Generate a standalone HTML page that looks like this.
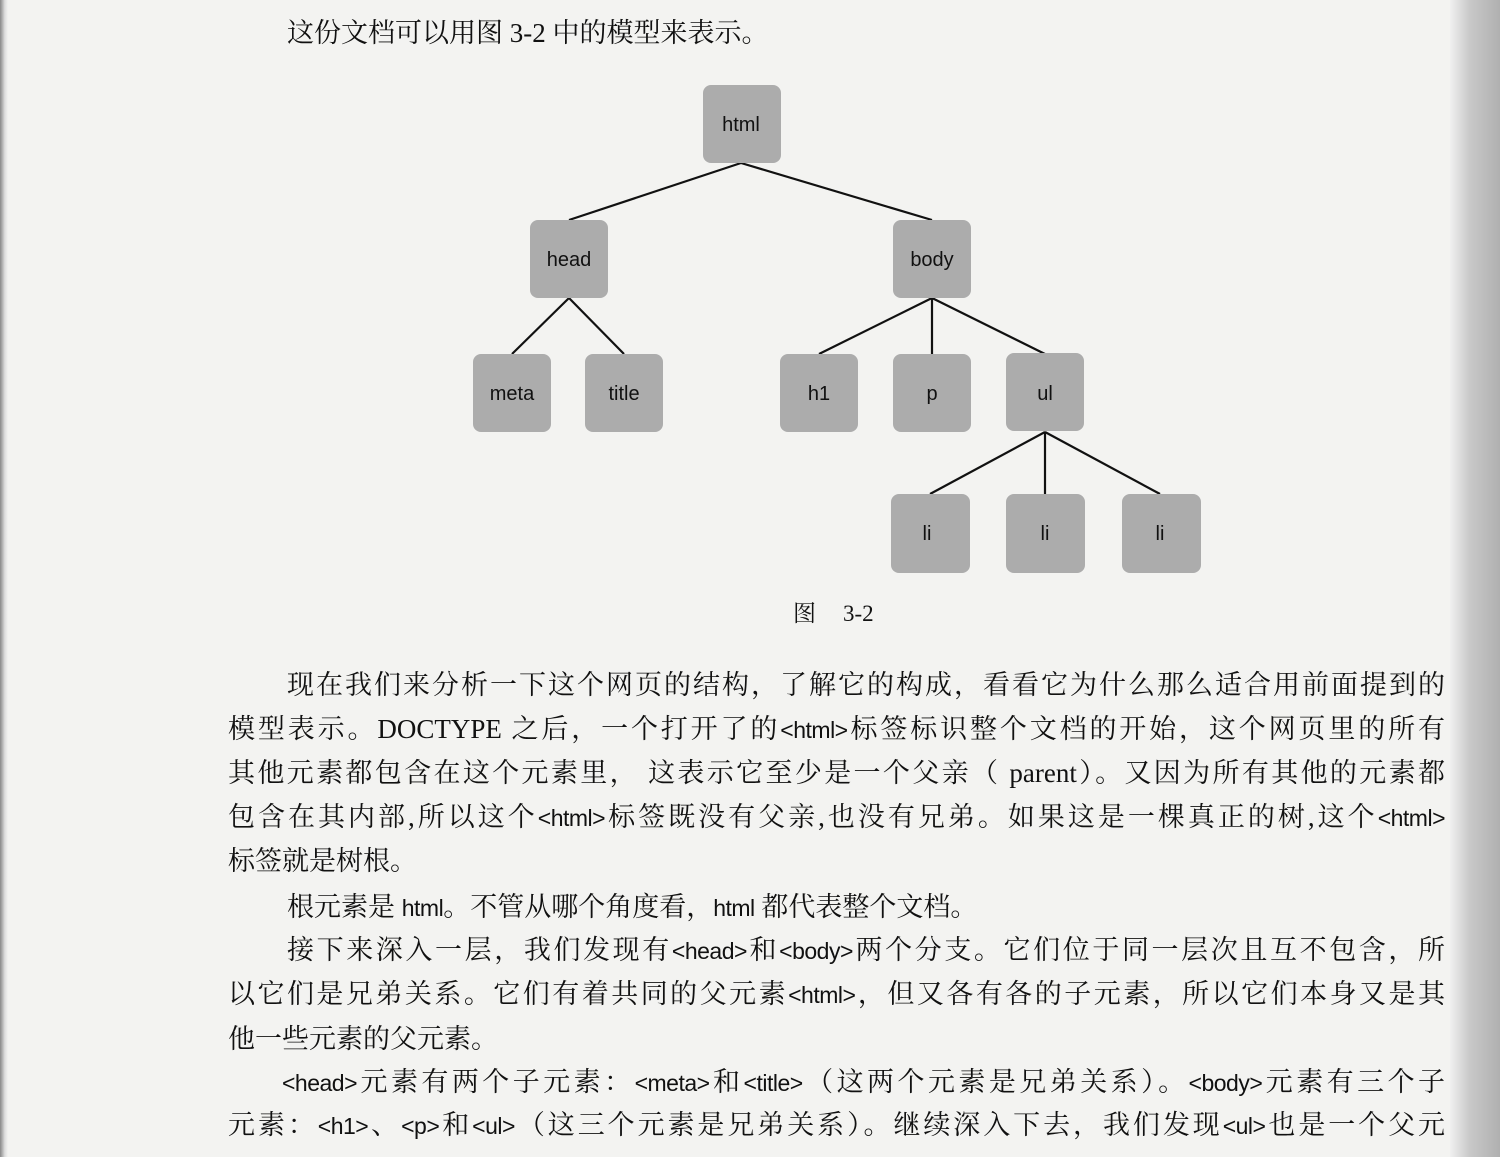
<!DOCTYPE html>
<html><head><meta charset="utf-8">
<style>
html,body{margin:0;padding:0;}
body{width:1500px;height:1157px;position:relative;overflow:hidden;background:#f3f3f1;
font-family:"Liberation Serif","Noto Serif CJK SC",serif;color:#111;}
.edgeL{position:absolute;left:0;top:0;width:8px;height:1157px;background:linear-gradient(90deg,#888,#ddd 60%,#f3f3f1);}
.edgeR{position:absolute;right:0;top:0;width:50px;height:1157px;background:linear-gradient(90deg,#f0f0f0,#c8c8c8 40%,#b0b0b0);}
.ln{position:absolute;left:228px;width:1217px;font-size:27px;line-height:40px;white-space:nowrap;text-align:justify;text-align-last:justify;}
.ln.e{text-align-last:left;}
.c{font-family:"Liberation Sans Narrow","Liberation Sans",sans-serif;font-size:23px;letter-spacing:-0.5px;}
svg text{font-family:"Liberation Sans",sans-serif;font-size:20px;fill:#111;}
</style></head><body>
<div class="edgeL"></div><div class="edgeR"></div>
<div class="ln e" style="left:287px;top:13px;">这份文档可以用图 3-2 中的模型来表示。</div>
<svg width="1500" height="650" style="position:absolute;left:0;top:0">
<g stroke="#111" stroke-width="2.2" fill="none">
<line x1="741" y1="163" x2="569" y2="220"/><line x1="741" y1="163" x2="932" y2="220"/>
<line x1="569" y1="298" x2="512" y2="354"/><line x1="569" y1="298" x2="624" y2="354"/>
<line x1="932" y1="298" x2="819" y2="354"/><line x1="932" y1="298" x2="932" y2="354"/><line x1="932" y1="298" x2="1045" y2="354"/>
<line x1="1045" y1="432" x2="930" y2="494"/><line x1="1045" y1="432" x2="1045" y2="494"/><line x1="1045" y1="432" x2="1160" y2="494"/>
</g>
<g fill="#acacac">
<rect x="703" y="85" width="78" height="78" rx="8"/>
<rect x="530" y="220" width="78" height="78" rx="8"/>
<rect x="893" y="220" width="78" height="78" rx="8"/>
<rect x="473" y="354" width="78" height="78" rx="8"/>
<rect x="585" y="354" width="78" height="78" rx="8"/>
<rect x="780" y="354" width="78" height="78" rx="8"/>
<rect x="893" y="354" width="78" height="78" rx="8"/>
<rect x="1006" y="353" width="78" height="78" rx="8"/>
<rect x="891" y="494" width="79" height="79" rx="8"/>
<rect x="1006" y="494" width="79" height="79" rx="8"/>
<rect x="1122" y="494" width="79" height="79" rx="8"/>
</g>
<g text-anchor="middle">
<text x="741" y="131">html</text><text x="569" y="266">head</text><text x="932" y="266">body</text>
<text x="512" y="400">meta</text><text x="624" y="400">title</text><text x="819" y="400">h1</text>
<text x="932" y="400">p</text><text x="1045" y="400">ul</text>
<text x="927" y="540">li</text><text x="1045" y="540">li</text><text x="1160" y="540">li</text>
</g>
<text x="793" y="621" style="font-family:'Liberation Serif','Noto Serif CJK SC',serif;font-size:23px">图</text>
<text x="843" y="621" style="font-family:'Liberation Serif',serif;font-size:23px">3-2</text>
</svg>
<div class="ln" style="left:287px;width:1158px;top:665px;">现在我们来分析一下这个网页的结构，了解它的构成，看看它为什么那么适合用前面提到的</div>
<div class="ln" style="top:709px;">模型表示。DOCTYPE 之后，一个打开了的<span class="c">&lt;html&gt;</span>标签标识整个文档的开始，这个网页里的所有</div>
<div class="ln" style="top:753px;">其他元素都包含在这个元素里， 这表示它至少是一个父亲（ parent）。又因为所有其他的元素都</div>
<div class="ln" style="top:797px;">包含在其内部,所以这个<span class="c">&lt;html&gt;</span>标签既没有父亲,也没有兄弟。如果这是一棵真正的树,这个<span class="c">&lt;html&gt;</span></div>
<div class="ln e" style="top:841px;">标签就是树根。</div>
<div class="ln e" style="left:287px;top:887px;">根元素是 <span class="c">html</span>。不管从哪个角度看，<span class="c">html</span> 都代表整个文档。</div>
<div class="ln" style="left:287px;width:1158px;top:930px;">接下来深入一层，我们发现有<span class="c">&lt;head&gt;</span>和<span class="c">&lt;body&gt;</span>两个分支。它们位于同一层次且互不包含，所</div>
<div class="ln" style="top:974px;">以它们是兄弟关系。它们有着共同的父元素<span class="c">&lt;html&gt;</span>，但又各有各的子元素，所以它们本身又是其</div>
<div class="ln e" style="top:1019px;">他一些元素的父元素。</div>
<div class="ln" style="left:282px;width:1163px;top:1062px;"><span class="c">&lt;head&gt;</span>元素有两个子元素：<span class="c">&lt;meta&gt;</span>和<span class="c">&lt;title&gt;</span>（这两个元素是兄弟关系）。<span class="c">&lt;body&gt;</span>元素有三个子</div>
<div class="ln" style="top:1105px;">元素：<span class="c">&lt;h1&gt;</span>、<span class="c">&lt;p&gt;</span>和<span class="c">&lt;ul&gt;</span>（这三个元素是兄弟关系）。继续深入下去，我们发现<span class="c">&lt;ul&gt;</span>也是一个父元</div>
</body></html>
